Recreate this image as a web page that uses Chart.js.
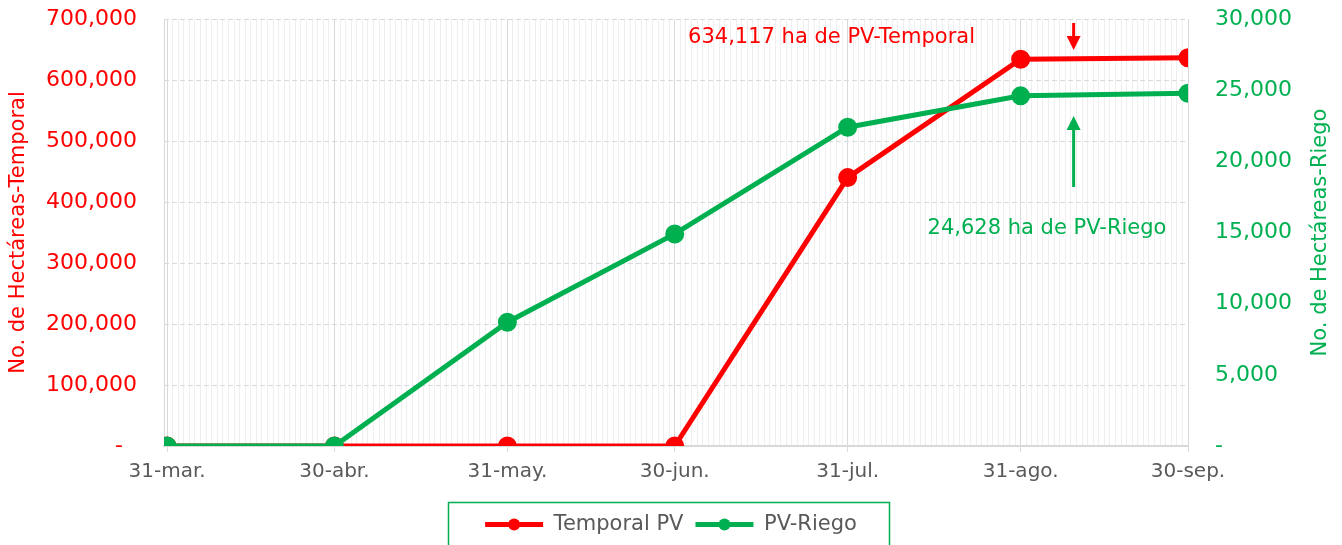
<!DOCTYPE html>
<html>
<head>
<meta charset="utf-8">
<script src="https://cdn.jsdelivr.net/npm/chart.js@4/dist/chart.umd.min.js"></script>
<style>
  html, body { margin: 0; padding: 0; background: #fff; }
  #wrap { width: 1342px; height: 545px; position: relative; }
</style>
</head>
<body>
<div id="wrap"><canvas id="grafica" width="1342" height="545"></canvas></div>
<script>
// días desde el 31-mar
const dias = [0, 30, 61, 91, 122, 153, 183];
const etiquetas = ['31-mar.', '30-abr.', '31-may.', '30-jun.', '31-jul.', '31-ago.', '30-sep.'];
const temporal = [0, 0, 0, 0, 440000, 634117, 636500];
const riego = [0, 0, 8700, 14900, 22400, 24600, 24780];

const ROJO = '#ff0000';
const VERDE = '#00b050';
const GRIS = '#595959';
const FUENTE = "'DejaVu Sans', sans-serif";
const INICIO = -0.55;

function fmt(v) {
    return v === 0 ? '-' : v.toLocaleString('en-US');
}

// líneas principales: fin de mes y borde izquierdo
function esPrincipal(v) {
    return dias.includes(v) || v === INICIO;
}

// títulos, flechas y recuadro de la leyenda
const extras = {
    id: 'extras',
    afterDraw(chart) {
        const ctx = chart.ctx;
        const x = chart.scales.x;
        const area = chart.chartArea;
        ctx.save();

        // título del eje derecho (leído de abajo hacia arriba)
        ctx.translate(1321, (area.top + area.bottom) / 2);
        ctx.rotate(-Math.PI / 2);
        ctx.fillStyle = VERDE;
        ctx.font = '21px ' + FUENTE;
        ctx.textAlign = 'center';
        ctx.textBaseline = 'middle';
        ctx.fillText('No. de Hectáreas-Riego', 0, 0);
        ctx.setTransform(1, 0, 0, 1, 0, 0);

        // anotaciones
        const xa = x.getPixelForValue(162.5);
        ctx.font = '21px ' + FUENTE;
        ctx.textAlign = 'right';
        ctx.fillStyle = ROJO;
        ctx.fillText('634,117 ha de PV-Temporal', 975, 38);
        ctx.textAlign = 'center';
        ctx.fillStyle = VERDE;
        ctx.fillText('24,628 ha de PV-Riego', 1047, 229);

        function flecha(x0, y0, y1, color) {
            const dir = y1 > y0 ? 1 : -1;
            ctx.strokeStyle = color;
            ctx.fillStyle = color;
            ctx.lineWidth = 3;
            ctx.beginPath();
            ctx.moveTo(x0, y0);
            ctx.lineTo(x0, y1 - dir * 10);
            ctx.stroke();
            ctx.beginPath();
            ctx.moveTo(x0, y1);
            ctx.lineTo(x0 - 7, y1 - dir * 14);
            ctx.lineTo(x0 + 7, y1 - dir * 14);
            ctx.closePath();
            ctx.fill();
        }
        flecha(xa, 23, 50, ROJO);
        flecha(xa, 187, 116, VERDE);

        // leyenda: puntos y recuadro
        const lg = chart.legend;
        if (lg && lg.legendHitBoxes) {
            lg.legendHitBoxes.forEach((b, i) => {
                const item = lg.legendItems[i];
                ctx.fillStyle = item.strokeStyle;
                ctx.beginPath();
                ctx.arc(b.left + lg.options.labels.boxWidth / 2, b.top + b.height / 2, 6, 0, Math.PI * 2);
                ctx.fill();
            });
            ctx.strokeStyle = VERDE;
            ctx.lineWidth = 1.5;
            ctx.strokeRect(448.5, 502.5, 441, 44);
        }
        ctx.restore();
    }
};

const ctx = document.getElementById('grafica').getContext('2d');
Chart.defaults.font.family = FUENTE;

new Chart(ctx, {
    type: 'line',
    data: {
        datasets: [{
            label: 'Temporal PV',
            data: dias.map((d, i) => ({ x: d, y: temporal[i] })),
            borderColor: ROJO,
            backgroundColor: ROJO,
            borderWidth: 5,
            pointRadius: 7,
            pointHoverRadius: 7,
            yAxisID: 'y',
            order: 1
        }, {
            label: 'PV-Riego',
            data: dias.map((d, i) => ({ x: d, y: riego[i] })),
            borderColor: VERDE,
            backgroundColor: VERDE,
            borderWidth: 5,
            pointRadius: 7,
            pointHoverRadius: 7,
            yAxisID: 'y2',
            order: 0
        }]
    },
    options: {
        responsive: false,
        animation: false,
        devicePixelRatio: 1,
        layout: { padding: 0 },
        plugins: {
            legend: {
                position: 'bottom',
                labels: {
                    color: GRIS,
                    font: { size: 21 },
                    boxWidth: 58,
                    boxHeight: 5,
                    padding: 12,
                    sort: (a, b) => a.datasetIndex - b.datasetIndex,
                    generateLabels: (chart) => Chart.defaults.plugins.legend.labels.generateLabels(chart)
                        .map(l => ({ ...l, lineWidth: 0, fillStyle: l.strokeStyle }))
                }
            },
            tooltip: { enabled: false }
        },
        scales: {
            x: {
                type: 'linear',
                min: INICIO,
                max: 183,
                afterFit: (s) => { s.height = 56; },
                // una línea por día, como en la hoja original
                afterBuildTicks: (s) => {
                    const t = [{ value: INICIO }];
                    for (let d = 0; d <= 183; d++) t.push({ value: d });
                    s.ticks = t;
                },
                ticks: {
                    autoSkip: false,
                    maxRotation: 0,
                    padding: 8,
                    color: GRIS,
                    font: { size: 20 },
                    callback: (v) => {
                        const i = dias.indexOf(v);
                        return i >= 0 ? etiquetas[i] : '';
                    }
                },
                grid: {
                    color: (c) => c.tick && esPrincipal(c.tick.value) ? '#d9d9d9' : '#efefef',
                    tickColor: (c) => c.tick && dias.includes(c.tick.value) ? '#d9d9d9' : 'rgba(0,0,0,0)',
                    tickLength: 6
                },
                border: { color: '#d9d9d9', width: 2 }
            },
            y: {
                position: 'left',
                min: 0,
                max: 700000,
                afterFit: (s) => { s.width = 164; s.paddingTop = 19; s.paddingBottom = 0; },
                ticks: {
                    stepSize: 100000,
                    padding: 27,
                    color: ROJO,
                    font: { size: 22 },
                    callback: (v) => v === 0 ? '-  ' : fmt(v)
                },
                grid: { color: '#d9d9d9', drawTicks: false },
                border: { display: false, dash: [5, 3] },
                title: {
                    display: true,
                    text: 'No. de Hectáreas-Temporal',
                    color: ROJO,
                    font: { size: 21 },
                    padding: { top: 6, bottom: 0 }
                }
            },
            y2: {
                position: 'right',
                min: 0,
                max: 30000,
                afterFit: (s) => { s.width = 154; s.paddingTop = 19; s.paddingBottom = 0; },
                ticks: {
                    stepSize: 5000,
                    padding: 27,
                    color: VERDE,
                    font: { size: 22 },
                    callback: (v) => fmt(v)
                },
                grid: { drawOnChartArea: false, drawTicks: false },
                border: { display: false }
            }
        }
    },
    plugins: [extras]
});
</script>
</body>
</html>
